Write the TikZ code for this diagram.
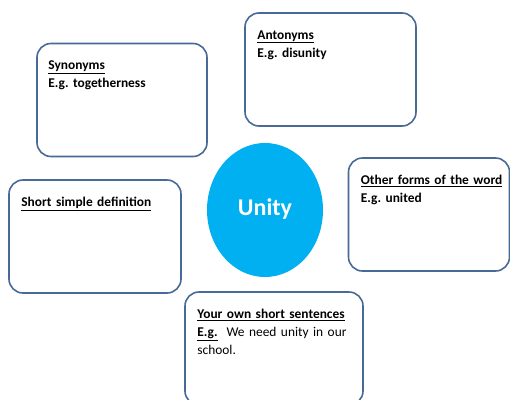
\documentclass[tikz,border=0pt]{standalone}
\usepackage{fontspec}
\setmainfont{Carlito}
\usetikzlibrary{positioning,shapes.geometric}
\definecolor{rahmen}{RGB}{72,106,150}
\definecolor{kreis}{RGB}{0,176,240}
\newcommand{\wordtext}{\fontsize{13.4}{18}\selectfont\frenchspacing}

\begin{document}
\begin{tikzpicture}[x=1pt,y=-1pt,
  wordbox/.style={draw=rahmen, line width=1.6pt, rounded corners=14pt,
    minimum width=#1, minimum height=113pt, inner sep=0pt},
  boxtext/.style={inner sep=0pt, align=left, font=\wordtext\bfseries,
    text width=#1}]

\clip (0,0) rectangle (510,399);
\useasboundingbox (0,0) rectangle (510,399);

% the word in the middle
\node[ellipse, fill=kreis, minimum width=116pt, minimum height=134pt,
      inner sep=0pt, text=white, font=\fontsize{24}{28}\selectfont\bfseries]
      (unity) at (265,210) {\raisebox{5pt}{Unity}};

% boxes round it
\node[wordbox=170pt] (syn) at (122,100) {};
\node[wordbox=171pt] (ant) at (330.5,69.5) {};
\node[wordbox=172pt] (def) at (95,236.5) {};
\node[wordbox=161pt] (forms) at (429,214.5) {};
\node[wordbox=178pt] (sent) at (274,348.5) {};

\node[boxtext=150pt, below right=18pt and 12pt of syn.north west] (syntext)
  {\underline{Synonyms}\\ E.g. togetherness};
\node[boxtext=150pt, below right=18pt and 13pt of ant.north west] (anttext)
  {\underline{Antonyms}\\ E.g. disunity};
\node[boxtext=155pt, below right=18pt and 13pt of def.north west] (deftext)
  {\underline{Short simple definition}};
\node[boxtext=148pt, below right=18pt and 13pt of forms.north west] (formstext)
  {\underline{Other forms of the word}\\ E.g. united};
\node[boxtext=160pt, below right=18pt and 13pt of sent.north west] (senttext)
  {\underline{Your own short sentences}\\
   \underline{E.g.}\mdseries\ \ We need unity in our\\ school.};

\end{tikzpicture}
\end{document}
